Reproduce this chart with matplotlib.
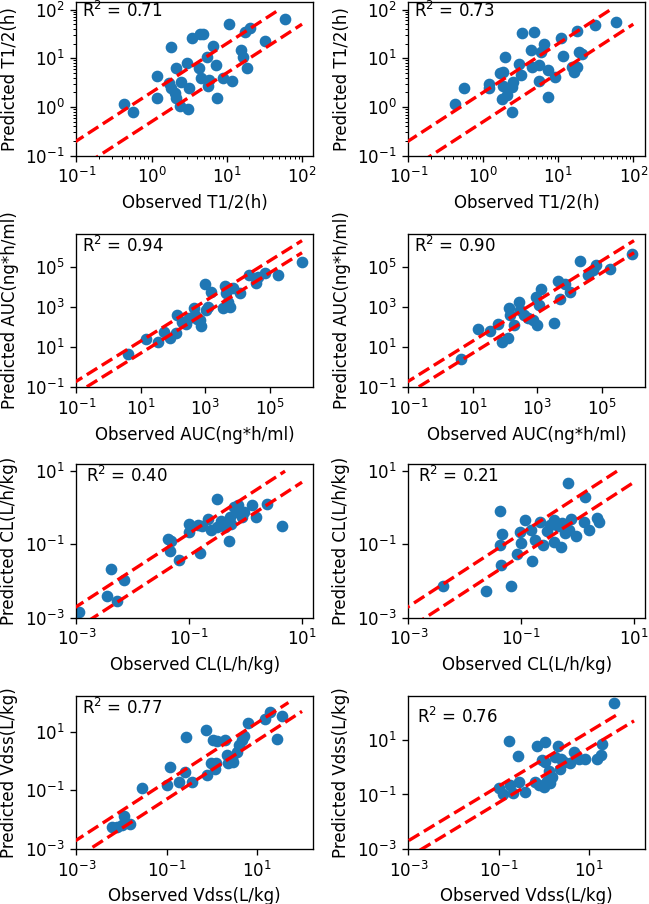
import matplotlib
matplotlib.use('Agg')
import matplotlib.pyplot as plt
from matplotlib.ticker import NullLocator, LogLocator

# ---------------- data ----------------
t12_obs_a = [0.43, 0.57, 1.2, 1.2, 1.84, 2.1, 1.71, 1.8, 2.04, 2.14, 2.4, 2.5, 3.17, 3.07, 3.0, 3.4, 4.4, 4.8,
             4.3, 4.6, 5.5, 5.8, 5.7, 6.6, 7.2, 7.5, 9.0, 11.6, 10.7, 15.4, 16.2, 18.4, 17.4, 20.3, 32, 59]
t12_pred_a = [1.15, 0.80, 4.3, 1.55, 17.2, 6.4, 3.1, 2.4, 1.9, 1.5, 1.05, 3.3, 2.5, 0.93, 8.1, 25.5, 31, 32,
              6.2, 3.9, 10.4, 3.6, 2.7, 18, 7.2, 1.55, 3.9, 3.4, 50, 15, 10.7, 6.2, 34, 41, 23, 65]
t12_obs_b = [0.42, 0.56, 1.2, 1.18, 1.69, 1.85, 1.96, 1.81, 1.78, 2.1, 2.4, 2.39, 2.5, 2.96, 3.2, 3.3, 4.7, 4.3,
             4.46, 5.5, 5.6, 5.9, 6.5, 7.2, 7.4, 9.0, 10.9, 11.7, 15, 16.3, 17.6, 18, 18.6, 21, 31, 59]
t12_pred_b = [1.15, 2.5, 3.0, 2.5, 4.9, 5.3, 10.4, 2.7, 1.43, 1.76, 2.6, 0.8, 3.3, 7.6, 4.5, 33, 34, 14.7,
              6.7, 7.2, 3.4, 13.5, 19.5, 5.7, 1.57, 4.2, 26, 11, 6.7, 5.3, 6.7, 36.5, 13.5, 12.2, 48, 56]

auc_obs_a = [4.1, 14.7, 34, 54, 82, 125, 135, 193, 257, 310, 433, 465, 552, 716, 665, 1070, 955, 1470, 1200,
             3500, 3970, 4500, 5000, 6000, 7200, 11700, 22700, 38000, 43000, 70000, 180000, 966000]
auc_pred_a = [4.5, 24, 18.6, 58, 27, 48, 390, 182, 141, 270, 845, 390, 240, 112, 222, 690, 13800, 5700, 1020,
              845, 11000, 4700, 1830, 1020, 8300, 5100, 38000, 16000, 32000, 50000, 41000, 164000]
auc_obs_b = [4.3, 15, 33, 59, 79, 120, 137, 143, 196, 280, 294, 400, 508, 726, 966, 922, 1320, 1120, 3260,
             4340, 4900, 7500, 10500, 21400, 37000, 52000, 67000, 183000, 883000]
auc_pred_b = [2.5, 76, 65, 140, 18.6, 30, 845, 390, 126, 1830, 690, 390, 270, 222, 126, 3200, 7400, 1230, 151,
              20000, 2600, 13800, 5700, 200000, 38000, 68000, 120000, 74000, 430000]

cl_obs_a = [0.0011, 0.00357, 0.0041, 0.0052, 0.0069, 0.042, 0.048, 0.045, 0.065, 0.099, 0.099, 0.143, 0.155,
            0.17, 0.215, 0.246, 0.316, 0.307, 0.36, 0.43, 0.5, 0.545, 0.53, 0.62, 0.70, 0.73, 0.88, 0.94, 1.32,
            1.5, 2.38, 4.5]
cl_pred_a = [0.0014, 0.004, 0.022, 0.0028, 0.0107, 0.137, 0.126, 0.066, 0.037, 0.37, 0.22, 0.34, 0.057,
             0.316, 0.49, 0.245, 1.69, 0.30, 0.44, 0.30, 0.126, 0.37, 0.57, 1.06, 0.78, 1.18, 0.57, 0.78, 1.18,
             0.57, 1.26, 0.316]
cl_obs_b = [0.0041, 0.0237, 0.066, 0.0427, 0.046, 0.0427, 0.044, 0.084, 0.097, 0.1, 0.118, 0.15, 0.156, 0.179,
            0.214, 0.245, 0.288, 0.32, 0.38, 0.38, 0.446, 0.5, 0.53, 0.59, 0.67, 0.70, 0.75, 0.955, 1.29, 1.38,
            1.58, 2.17, 2.39]
cl_pred_b = [0.0075, 0.0055, 0.0072, 0.84, 0.195, 0.094, 0.028, 0.056, 0.225, 0.109, 0.47, 0.25, 0.036, 0.129,
             0.4, 0.098, 0.24, 0.34, 0.47, 0.12, 0.31, 0.085, 0.38, 0.2, 4.9, 0.25, 0.49, 0.17, 0.42, 2.0,
             0.25, 0.52, 0.4]

vd_obs_a = [0.0061, 0.0079, 0.0101, 0.0114, 0.0155, 0.028, 0.1, 0.12, 0.19, 0.257, 0.266, 0.374, 0.75, 0.78,
            0.955, 1.06, 1.19, 1.25, 1.3, 2.0, 2.16, 2.35, 2.8, 3.0, 3.6, 4.1, 4.6, 5.2, 6.5, 15.3, 19.8, 27.8, 36]
vd_pred_a = [0.0055, 0.0057, 0.0066, 0.0137, 0.0069, 0.123, 0.152, 0.61, 0.187, 0.43, 6.7, 0.187, 11.4, 0.33,
             0.83, 5.2, 0.52, 0.83, 4.8, 5.2, 1.6, 0.83, 1.23, 0.9, 2.1, 3.5, 5.2, 7.3, 20.8, 28.5, 48, 5.6, 35]
vd_obs_b = [0.167, 0.264, 0.103, 0.125, 0.175, 0.208, 0.278, 0.39, 0.71, 0.65, 0.77, 1.0, 1.09, 0.92, 1.19,
            1.36, 1.09, 1.29, 1.53, 2.05, 1.82, 2.27, 2.43, 2.78, 3.9, 4.8, 6.0, 8.4, 15.3, 18.2, 19.8, 36]
vd_pred_b = [9.5, 2.66, 0.168, 0.101, 0.223, 0.11, 0.296, 0.12, 6.2, 0.296, 0.223, 0.194, 8.7, 1.85, 0.31,
             0.26, 1.5, 0.73, 0.45, 6.2, 2.44, 0.86, 2.0, 1.5, 1.4, 3.5, 2.0, 2.0, 2.0, 2.8, 6.9, 221]

r2_labels = ["0.71", "0.73", "0.94", "0.90", "0.40", "0.21", "0.77", "0.76"]
x_labels = ["Observed T1/2(h)", "Observed AUC(ng*h/ml)", "Observed CL(L/h/kg)", "Observed Vdss(L/kg)"]
y_labels = ["Predicted T1/2(h)", "Predicted AUC(ng*h/ml)", "Predicted CL(L/h/kg)", "Predicted Vdss(L/kg)"]
row_ticks = [[1e-1, 1e0, 1e1, 1e2], [1e-1, 1e1, 1e3, 1e5], [1e-3, 1e-1, 1e1], [1e-3, 1e-1, 1e1]]

panels = [(t12_obs_a, t12_pred_a), (t12_obs_b, t12_pred_b),
          (auc_obs_a, auc_pred_a), (auc_obs_b, auc_pred_b),
          (cl_obs_a, cl_pred_a), (cl_obs_b, cl_pred_b),
          (vd_obs_a, vd_pred_a), (vd_obs_b, vd_pred_b)]

# ---------------- layout / styling ----------------
W, H, DPI = 649, 904, 120
fig = plt.figure(figsize=(W / DPI, H / DPI), dpi=DPI)

col_x0 = [76.3, 408.3]
ax_w = 237.0
row_bottom = [155.7, 387.3, 617.7, 849.0]
ax_h = 153.5

# axis limits (low, high) per panel
xlims = [(0.1, 10**2.15), (0.1, 10**2.16), (0.1, 10**6.35), (0.1, 10**6.35),
         (1e-3, 10**1.2), (1e-3, 10**1.2), (1e-3, 10**2.25), (1e-3, 10**2.25)]
ylims = [(0.1, 10**2.15), (0.1, 10**2.15), (0.1, 10**6.64), (0.1, 10**6.64),
         (1e-3, 10**1.19), (1e-3, 10**1.19), (1e-3, 10**2.24), (1e-3, 10**2.63)]
# end x of the 2-fold lines (upper: y=2x, lower: y=x/2)
line_end = [(50, 100), (50, 100), (1e6, 1e6), (1e6, 1e6), (5, 10), (5, 10), (50, 100), (50, 100)]
text_pos = [(0.024, 0.906), (0.025, 0.906), (0.024, 0.880), (0.025, 0.880),
            (0.040, 0.881), (0.043, 0.881), (0.024, 0.879), (0.036, 0.819)]

for i, (obs, pred) in enumerate(panels):
    r, c = divmod(i, 2)
    x0 = col_x0[c]
    b = row_bottom[r]
    ax = fig.add_axes([x0 / W, 1 - b / H, ax_w / W, ax_h / H])
    ax.scatter(obs, pred, s=36, color='tab:blue', zorder=2)
    lo = xlims[i][0] / 100
    ue, le = line_end[i]
    ax.plot([lo, ue], [2 * lo, 2 * ue], 'r--', lw=2, zorder=3)
    ax.plot([lo, le], [lo / 2, le / 2], 'r--', lw=2, zorder=3)
    ax.set_xscale('log')
    ax.set_yscale('log')
    ax.set_xlim(*xlims[i])
    ax.set_ylim(*ylims[i])
    ax.set_xticks(row_ticks[r])
    ax.set_yticks(row_ticks[r])
    if r == 0:
        ax.xaxis.set_minor_locator(LogLocator(base=10, subs=range(2, 10), numticks=20))
        ax.yaxis.set_minor_locator(LogLocator(base=10, subs=range(2, 10), numticks=20))
    else:
        ax.xaxis.set_minor_locator(NullLocator())
        ax.yaxis.set_minor_locator(NullLocator())
    ax.set_xlabel(x_labels[r], fontsize=10)
    ax.set_ylabel(y_labels[r], fontsize=10)
    ax.tick_params(labelsize=10)
    tx, ty = text_pos[i]
    ax.text(tx, ty, "R$^2$ = " + r2_labels[i], transform=ax.transAxes, fontsize=10,
            ha='left', va='baseline')

fig.savefig("out.png", dpi=DPI)
